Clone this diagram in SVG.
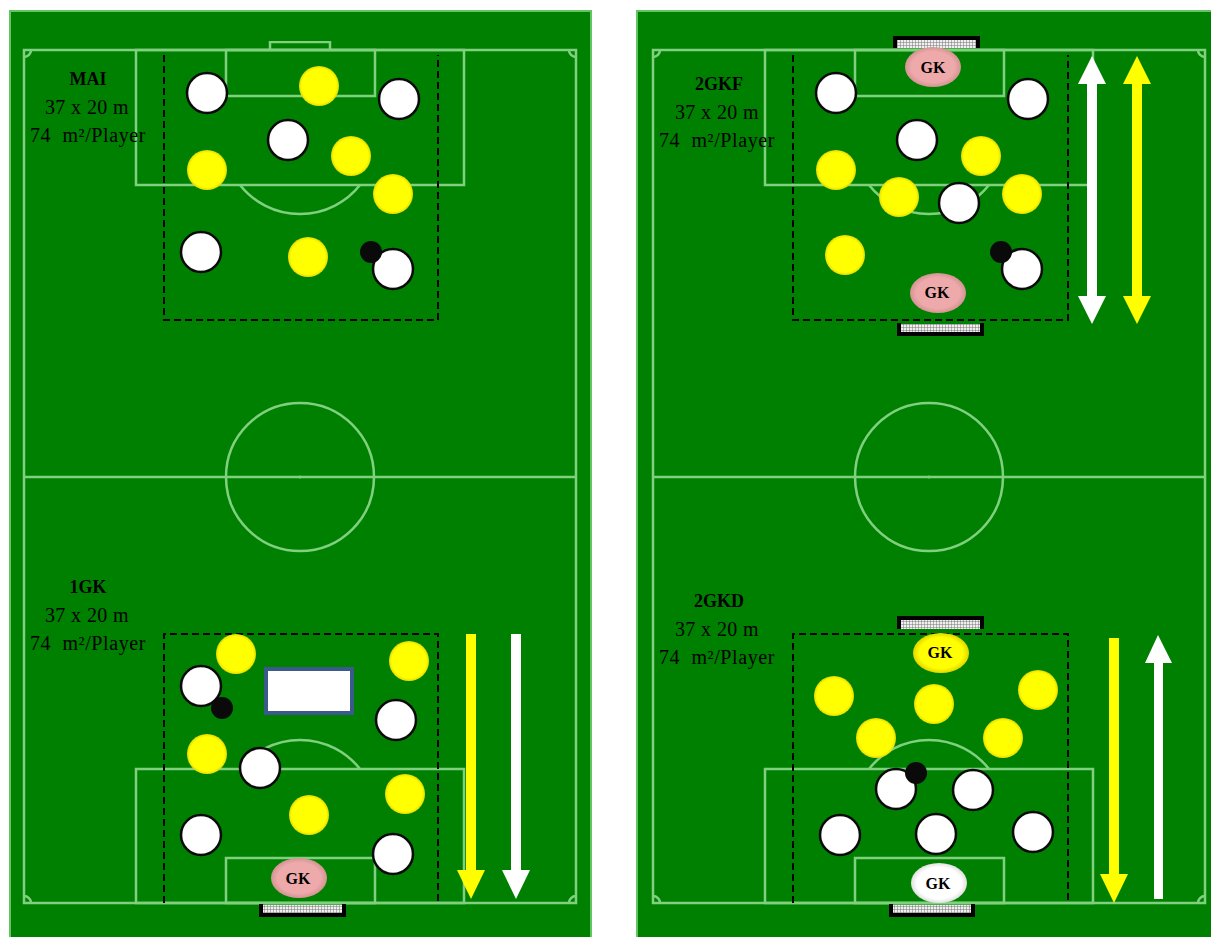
<svg xmlns="http://www.w3.org/2000/svg" width="1211" height="937" viewBox="0 0 1211 937">
<style>
.f{fill:#008000;stroke:#62c562;stroke-width:2}
.l{fill:none;stroke:#80d080;stroke-width:2.5}
.d{fill:none;stroke:#000;stroke-width:2;stroke-dasharray:7 4}
.w{fill:url(#gw);stroke:#0a0a0a;stroke-width:2.5}
.y{fill:url(#gy)}
.b{fill:#0a0a0a}
.gk{fill:url(#gp)}
.n{fill:url(#net)}
.e{fill:none;stroke:#000;stroke-width:4}
text{font-family:"Liberation Serif","DejaVu Serif",serif;fill:#000;text-anchor:middle}
.t{font-size:20px;letter-spacing:.4px}
.p{font-size:20px;letter-spacing:.6px;white-space:pre}
.h{font-size:18px;font-weight:bold}
.k{font-size:16px;font-weight:bold}
.ay{fill:#ffff00}.aw{fill:#fff}
</style>
<defs>
<pattern id="net" width="3" height="3" patternUnits="userSpaceOnUse"><rect width="3" height="3" fill="#f0f0f0"/><path d="M0 0H3M0 0V3" stroke="#777" stroke-width="1"/></pattern>
<radialGradient id="gw" r=".55"><stop offset=".8" stop-color="#fff"/><stop offset="1" stop-color="#d8d8d8"/></radialGradient>
<radialGradient id="gy" r=".55"><stop offset=".78" stop-color="#ffff00"/><stop offset="1" stop-color="#d4c400"/></radialGradient>
<radialGradient id="gp" r=".55"><stop offset=".7" stop-color="#eeaaaa"/><stop offset="1" stop-color="#c98888"/></radialGradient>
<radialGradient id="gq" r=".55"><stop offset=".7" stop-color="#ffff00"/><stop offset="1" stop-color="#d4c400"/></radialGradient>
<radialGradient id="gr" r=".55"><stop offset=".72" stop-color="#fff"/><stop offset="1" stop-color="#d0d0d0"/></radialGradient>
<filter id="soft" x="-5%" y="-5%" width="110%" height="110%"><feGaussianBlur stdDeviation=".5"/></filter>
<g id="pitch" filter="url(#soft)">
<rect class="l" x="24" y="50" width="552" height="853"/>
<path class="l" d="M24 477H576"/>
<circle class="l" cx="300" cy="477" r="74"/>
<circle cx="300" cy="477" r="1.5" fill="#80d080"/>
<rect class="l" x="136" y="50" width="328" height="135"/>
<rect class="l" x="226" y="50" width="149" height="46"/>
<path class="l" d="M240 185A76.5 76.5 0 0 0 360 185"/>
<rect class="l" x="136" y="769" width="328" height="134"/>
<rect class="l" x="226" y="858" width="149" height="45"/>
<path class="l" d="M240 769A76.5 76.5 0 0 1 360 769"/>
<path class="l" d="M24 57A7 7 0 0 0 31 50M569 50A7 7 0 0 0 576 57M24 896A7 7 0 0 1 31 903M569 903A7 7 0 0 1 576 896"/>
</g>
</defs>
<g id="field-left"><rect class="f" x="10" y="11" width="581" height="927"/><use href="#pitch"/><path class="l" d="M270 50V42H330V50" filter="url(#soft)"/></g>
<g id="field-right"><rect class="f" x="637" y="11" width="581" height="927"/><use href="#pitch" x="629"/></g>

<g id="connectors">
<path class="d" d="M164 55V320H438V55"/>
<path class="d" d="M164 903V634H438V903"/>
<path class="d" d="M793 55V320H1068V55"/>
<path class="d" d="M793 903V634H1068V903"/>
<path class="ay" d="M466 634H476V870H485L471 899L457 870H466Z"/>
<path class="aw" d="M511 634H521V870H530L516 899L502 870H511Z"/>
<path class="aw" d="M1087 84H1078L1092 56L1106 84H1097V296H1106L1092 324L1078 296H1087Z"/>
<path class="ay" d="M1132 84H1123L1137 56L1151 84H1142V296H1151L1137 324L1123 296H1132Z"/>
<path class="ay" d="M1109 638H1119V874H1128L1114 903L1100 874H1109Z"/>
<path class="aw" d="M1154 899V663H1145L1158 635L1172 663H1163V899Z"/>
</g>

<g id="goals">
<rect class="n" x="261" y="905" width="83" height="9"/><path class="e" d="M261 904V915H344V904"/>
<rect class="n" x="895" y="38" width="83" height="10"/><path class="e" d="M895 48V38H978V48"/>
<rect class="n" x="899" y="324" width="83" height="10"/><path class="e" d="M899 323V334H982V323"/>
<rect class="n" x="899" y="618" width="83" height="11"/><path class="e" d="M899 629V618H982V629"/>
<rect class="n" x="891" y="905" width="82" height="9"/><path class="e" d="M891 904V915H973V904"/>
</g>

<g id="pane-mai">
<circle class="w" cx="207" cy="93" r="20"/><circle class="y" cx="319" cy="86" r="20"/><circle class="w" cx="399" cy="99" r="20"/>
<circle class="w" cx="288" cy="140" r="20"/><circle class="y" cx="351" cy="156" r="20"/><circle class="y" cx="207" cy="170" r="20"/>
<circle class="y" cx="393" cy="194" r="20"/><circle class="w" cx="201" cy="252" r="20"/><circle class="y" cx="308" cy="257" r="20"/>
<circle class="w" cx="393" cy="269" r="20"/><circle class="b" cx="371" cy="252" r="11"/>
<text class="h" x="88" y="85">MAI</text><text class="t" x="87" y="114">37 x 20 m</text><text class="p" x="88" y="142">74  m²/Player</text>
</g>

<g id="pane-1gk">
<circle class="y" cx="236" cy="654" r="20"/><circle class="y" cx="409" cy="661" r="20"/><circle class="w" cx="201" cy="686" r="20"/><circle class="b" cx="222" cy="708" r="11"/>
<circle class="w" cx="396" cy="720" r="20"/><circle class="y" cx="207" cy="754" r="20"/><circle class="w" cx="260" cy="768" r="20"/>
<circle class="y" cx="405" cy="794" r="20"/><circle class="y" cx="309" cy="815" r="20"/><circle class="w" cx="201" cy="835" r="20"/><circle class="w" cx="393" cy="854" r="20"/>
<rect x="266" y="669" width="86" height="44" fill="#fff" stroke="#3a5a8c" stroke-width="4"/>
<ellipse class="gk" cx="299" cy="878" rx="28" ry="20"/><text class="k" x="298" y="884">GK</text>
<text class="h" x="88" y="593">1GK</text><text class="t" x="87" y="622">37 x 20 m</text><text class="p" x="88" y="650">74  m²/Player</text>
</g>

<g id="pane-2gkf">
<circle class="w" cx="836" cy="93" r="20"/><circle class="w" cx="1028" cy="99" r="20"/><circle class="w" cx="917" cy="140" r="20"/><circle class="y" cx="981" cy="156" r="20"/>
<circle class="y" cx="836" cy="170" r="20"/><circle class="y" cx="899" cy="197" r="20"/><circle class="w" cx="959" cy="203" r="20"/><circle class="y" cx="1022" cy="194" r="20"/>
<circle class="y" cx="845" cy="255" r="20"/><circle class="w" cx="1022" cy="269" r="20"/><circle class="b" cx="1001" cy="252" r="11"/>
<ellipse class="gk" cx="933" cy="67" rx="28" ry="20"/><text class="k" x="933" y="73">GK</text>
<ellipse class="gk" cx="938" cy="293" rx="28" ry="20"/><text class="k" x="937" y="298">GK</text>
<text class="h" x="719" y="90">2GKF</text><text class="t" x="717" y="119">37 x 20 m</text><text class="p" x="717" y="147">74  m²/Player</text>
</g>

<g id="pane-2gkd">
<circle class="y" cx="834" cy="696" r="20"/><circle class="y" cx="934" cy="704" r="20"/><circle class="y" cx="1038" cy="690" r="20"/><circle class="y" cx="876" cy="738" r="20"/><circle class="y" cx="1003" cy="738" r="20"/>
<circle class="w" cx="896" cy="789" r="20"/><circle class="w" cx="973" cy="790" r="20"/><circle class="b" cx="916" cy="773" r="11"/>
<circle class="w" cx="840" cy="835" r="20"/><circle class="w" cx="936" cy="834" r="20"/><circle class="w" cx="1033" cy="832" r="20"/>
<ellipse cx="941" cy="653" rx="28" ry="20" fill="url(#gq)"/><text class="k" x="940" y="658">GK</text>
<ellipse cx="939" cy="883" rx="28" ry="20" fill="url(#gr)"/><text class="k" x="938" y="889">GK</text>
<text class="h" x="719" y="607">2GKD</text><text class="t" x="717" y="636">37 x 20 m</text><text class="p" x="717" y="664">74  m²/Player</text>
</g>
</svg>
